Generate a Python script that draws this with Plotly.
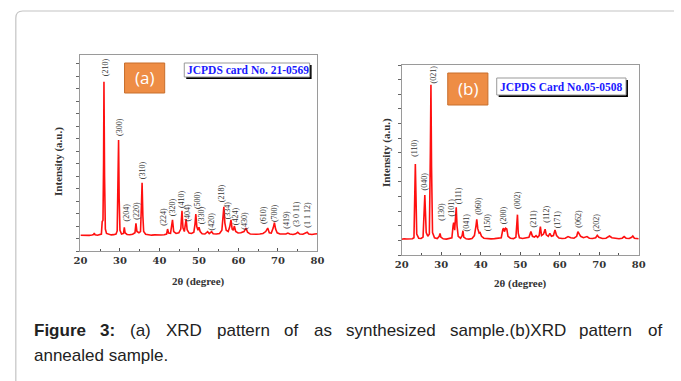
import plotly.graph_objects as go

# ---------------- data ----------------
two_theta_a = [20.0, 20.8, 21.5, 22.2, 22.9, 23.3, 23.5, 23.7, 24.3, 24.9, 25.3, 25.5, 25.7, 25.85, 25.95, 26.1,
               26.3, 26.6, 27.2, 27.8, 28.4, 29.0, 29.3, 29.5, 29.65, 29.8, 30.0, 30.4, 30.9, 31.1, 31.3, 31.8,
               32.5, 33.2, 33.8, 34.05, 34.3, 34.8, 35.2, 35.45, 35.6, 35.8, 36.0, 36.5, 37.3, 38.0, 38.8, 39.6,
               40.4, 41.2, 41.8, 42.05, 42.3, 42.8, 43.3, 43.6, 44.2, 44.9, 45.4, 45.7, 45.95, 46.3, 46.75, 47.0,
               47.5, 48.1, 48.7, 49.0, 49.2, 49.45, 49.75, 50.0, 50.3, 50.8, 51.5, 52.2, 52.6, 53.2, 53.6, 54.4,
               55.2, 55.8, 56.1, 56.3, 56.55, 56.9, 57.4, 57.8, 58.1, 58.4, 58.7, 58.95, 59.3, 59.9, 60.6, 61.4,
               61.9, 62.3, 63.0, 63.8, 64.6, 65.4, 66.2, 66.9, 67.4, 67.8, 68.3, 68.8, 69.1, 69.4, 69.8, 70.5,
               71.3, 72.0, 72.5, 73.0, 73.8, 74.5, 75.0, 75.5, 76.3, 77.0, 77.4, 77.8, 78.6, 79.3, 80.0]
intensity_a = [126, 124, 128, 125, 129, 132, 143, 130, 127, 131, 136, 236, 246, 700, 1358, 600,
               176, 141, 132, 129, 131, 136, 161, 500, 890, 420, 166, 136, 141, 190, 146, 133,
               130, 134, 146, 222, 156, 146, 156, 380, 548, 280, 156, 134, 129, 127, 129, 126,
               128, 130, 136, 176, 144, 141, 249, 156, 141, 146, 176, 323, 186, 156, 257, 171,
               144, 141, 151, 216, 297, 196, 166, 190, 156, 138, 136, 155, 139, 155, 138, 136,
               141, 166, 300, 355, 226, 166, 156, 196, 249, 176, 166, 200, 156, 144, 146, 156,
               184, 151, 136, 132, 134, 136, 141, 156, 184, 146, 144, 186, 227, 176, 146, 136,
               134, 136, 144, 136, 133, 138, 150, 136, 134, 141, 150, 136, 132, 136, 138]

labels_a = ["(210)", "(300)", "(204)", "(220)", "(310)", "(224)", "(320)", "(410)", "(404)", "(500)", "(330)",
            "(420)", "(218)", "(334)", "(424)", "(430)", "(610)", "(700)", "(419)", "(3 0 11)", "(1 1 12)"]
label_x_a = [26.20, 29.92, 31.57, 34.13, 35.70, 41.08, 43.14, 45.62, 47.03, 49.51, 50.83,
             53.23, 55.79, 57.44, 59.26, 61.58, 66.45, 69.18, 72.24, 74.80, 77.45]
label_y_a = [1473, 992, 310, 326, 652, 273, 350, 414, 310, 409, 289,
             235, 462, 329, 275, 241, 289, 302, 249, 299, 294]

two_theta_b = [20.0, 20.6, 21.3, 22.0, 22.7, 23.1, 23.3, 23.45, 23.6, 23.8, 24.3, 24.9, 25.4, 25.7, 25.85, 26.0,
               26.2, 26.6, 27.0, 27.25, 27.4, 27.55, 27.8, 28.3, 29.0, 29.5, 29.7, 29.9, 30.5, 31.3, 32.0, 32.7,
               33.0, 33.15, 33.4, 33.65, 33.8, 34.0, 34.3, 34.9, 35.3, 35.5, 35.7, 36.3, 37.0, 37.8, 38.4, 38.8,
               39.0, 39.25, 39.6, 39.85, 40.2, 40.8, 41.7, 42.6, 43.5, 44.4, 45.2, 45.6, 45.8, 46.0, 46.3, 46.6,
               46.9, 47.5, 48.3, 48.9, 49.15, 49.3, 49.5, 49.8, 50.6, 51.4, 52.2, 52.7, 53.1, 53.6, 54.0, 54.4,
               54.8, 55.1, 55.4, 55.9, 56.3, 56.6, 57.1, 57.5, 57.9, 58.4, 58.8, 59.2, 59.8, 60.6, 61.4, 62.1,
               62.8, 63.6, 64.3, 64.6, 64.9, 65.3, 66.0, 66.9, 67.5, 68.3, 69.1, 69.5, 69.9, 70.8, 71.7, 72.6,
               73.2, 74.0, 75.0, 75.8, 76.3, 76.8, 77.6, 78.2, 78.5, 78.9, 79.5, 80.0]
intensity_b = [108, 111, 109, 110, 111, 118, 400, 623, 420, 143, 115, 113, 123, 300, 411, 300,
               153, 128, 143, 700, 1164, 600, 153, 118, 113, 128, 148, 123, 111, 109, 111, 118,
               200, 221, 170, 250, 327, 200, 128, 115, 133, 166, 123, 111, 109, 113, 133, 200,
               244, 180, 150, 153, 128, 115, 111, 110, 112, 113, 118, 175, 183, 160, 183, 178,
               128, 115, 112, 121, 240, 276, 150, 118, 113, 115, 121, 160, 128, 123, 132, 121,
               133, 194, 133, 143, 176, 138, 128, 148, 128, 133, 171, 133, 116, 113, 115, 126,
               118, 115, 128, 160, 145, 128, 118, 126, 115, 113, 118, 135, 121, 113, 115, 130,
               118, 113, 111, 115, 126, 115, 113, 121, 130, 115, 113, 111]

labels_b = ["(110)", "(040)", "(021)", "(130)", "(101)", "(111)", "(041)", "(060)", "(150)", "(200)",
            "(002)", "(211)", "(112)", "(171)", "(062)", "(202)"]
label_x_b = [23.39, 25.87, 28.10, 30.17, 32.48, 34.30, 36.37, 39.59, 41.57, 45.80,
             49.43, 53.30, 56.45, 59.34, 64.71, 69.27]
label_y_b = [727, 502, 1233, 296, 325, 403, 225, 337, 223, 270,
             377, 245, 280, 245, 251, 225]

x_ticks = [20, 30, 40, 50, 60, 70, 80]

caption_words_1 = ["<b>Figure</b>", "<b>3:</b>", "(a)", "XRD", "pattern", "of", "as", "synthesized",
                   "sample.(b)XRD", "pattern", "of"]
caption_x_1 = [26, 93, 124, 160, 212, 281, 311, 344, 450, 582, 652]
caption_line_2 = "annealed sample."

# ---------------- helpers ----------------
W, H = 681, 381


def px(x):
    return x / W


def py(y):
    return 1 - y / H


RED = "#ff1010"
SERIF = "Liberation Serif"
TICKFONT = dict(family="DejaVu Serif", size=10, color="#333333", weight="bold")

fig = go.Figure()
fig.add_trace(go.Scatter(x=two_theta_a, y=intensity_a, mode="lines",
                         line=dict(color=RED, width=1.6), xaxis="x", yaxis="y", hoverinfo="skip"))
fig.add_trace(go.Scatter(x=two_theta_b, y=intensity_b, mode="lines",
                         line=dict(color=RED, width=1.6), xaxis="x2", yaxis="y2", hoverinfo="skip"))

xcommon = dict(range=[20, 80], tickvals=x_ticks, showline=True, mirror=True, linecolor="#9a9a9a",
               linewidth=1, ticks="inside", ticklen=3, tickcolor="#555555", showgrid=False,
               zeroline=False, tickfont=TICKFONT,
               minor=dict(dtick=5, tick0=20, ticks="inside", ticklen=2, tickcolor="#555555", showgrid=False))
ycommon = dict(showline=True, mirror=True, linecolor="#9a9a9a", linewidth=1, ticks="outside",
               ticklen=3, tickcolor="#666666", dtick=100, tick0=0, showticklabels=False,
               showgrid=False, zeroline=False)

fig.update_layout(
    width=W, height=H, margin=dict(l=0, r=0, t=0, b=0),
    paper_bgcolor="white", plot_bgcolor="white", showlegend=False,
    xaxis=dict(domain=[px(75), px(317)], anchor="y", **xcommon),
    yaxis=dict(domain=[py(251), py(55)], anchor="x", range=[0, 1572], **ycommon),
    xaxis2=dict(domain=[px(403), px(645)], anchor="y2", **xcommon),
    yaxis2=dict(domain=[py(255), py(65)], anchor="x2", range=[0, 1300], **ycommon),
)

ann = []
for t, x, y in zip(labels_a, label_x_a, label_y_a):
    ann.append(dict(text=t, x=x, y=y, xref="x", yref="y", showarrow=False, textangle=-90,
                    font=dict(family=SERIF, size=8, color="#333333"), xanchor="center", yanchor="middle"))
for t, x, y in zip(labels_b, label_x_b, label_y_b):
    ann.append(dict(text=t, x=x, y=y, xref="x2", yref="y2", showarrow=False, textangle=-90,
                    font=dict(family=SERIF, size=8, color="#333333"), xanchor="center", yanchor="middle"))

title_font = dict(family=SERIF, size=11, color="#333333", weight="bold")
# axis titles
ann.append(dict(text="2θ (degree)", x=px(196), y=py(281), xref="paper", yref="paper", showarrow=False,
                font=title_font, xanchor="center", yanchor="middle"))
ann.append(dict(text="2θ (degree)", x=px(524), y=py(283), xref="paper", yref="paper", showarrow=False,
                font=title_font, xanchor="center", yanchor="middle"))
ann.append(dict(text="Intensity (a.u.)", x=px(52), y=py(161), xref="paper", yref="paper", showarrow=False,
                textangle=-90, font=title_font, xanchor="center", yanchor="middle"))
ann.append(dict(text="Intensity (a.u.)", x=px(388), y=py(153), xref="paper", yref="paper", showarrow=False,
                textangle=-90, font=title_font, xanchor="center", yanchor="middle"))

# panel tags
ann.append(dict(text="(a)", x=px(140.5), y=py(78), xref="paper", yref="paper", showarrow=False,
                font=dict(family="Open Sans", size=17, color="white"), xanchor="center", yanchor="middle"))
ann.append(dict(text="(b)", x=px(470.5), y=py(89), xref="paper", yref="paper", showarrow=False,
                font=dict(family="Open Sans", size=17, color="white"), xanchor="center", yanchor="middle"))
ann.append(dict(text="JCPDS card No. 21-0569", x=px(246), y=py(70), xref="paper", yref="paper",
                showarrow=False, font=dict(family=SERIF, size=11.5, color="#1a1aff", weight="bold"),
                xanchor="center", yanchor="middle"))
ann.append(dict(text="JCPDS Card No.05-0508", x=px(566), y=py(86.5), xref="paper", yref="paper",
                showarrow=False, font=dict(family=SERIF, size=11.5, color="#1a1aff", weight="bold"),
                xanchor="center", yanchor="middle"))

# caption
cap_font = dict(family="Liberation Sans", size=17, color="#222222")
for w, x in zip(caption_words_1, caption_x_1):
    ann.append(dict(text=w, x=px(x), y=py(330), xref="paper", yref="paper", showarrow=False,
                    font=cap_font, xanchor="left", yanchor="middle"))
ann.append(dict(text=caption_line_2, x=px(26), y=py(355), xref="paper", yref="paper", showarrow=False,
                font=cap_font, xanchor="left", yanchor="middle"))

fig.update_layout(annotations=ann)

# decorative shapes
shapes = []
r = 7
path = (f"M {px(9)},{py(381)} L {px(9)},{py(11 + r)} "
        f"Q {px(9)},{py(11)} {px(9 + r)},{py(11)} L {px(681)},{py(11)}")
shapes.append(dict(type="path", path=path, xref="paper", yref="paper",
                   line=dict(color="#c4c4c4", width=1.2)))
# orange tags
shapes.append(dict(type="rect", x0=px(120), x1=px(161), y0=py(93), y1=py(63), xref="paper", yref="paper",
                   fillcolor="#ee8d45", line=dict(color="#c86e2c", width=1)))
shapes.append(dict(type="rect", x0=px(450), x1=px(491), y0=py(105), y1=py(73), xref="paper", yref="paper",
                   fillcolor="#ee8d45", line=dict(color="#c86e2c", width=1)))
# JCPDS boxes with shadow
shapes.append(dict(type="rect", x0=px(183), x1=px(311), y0=py(79), y1=py(65), xref="paper", yref="paper",
                   fillcolor="black", line=dict(width=0)))
shapes.append(dict(type="rect", x0=px(181), x1=px(309), y0=py(77), y1=py(63), xref="paper", yref="paper",
                   fillcolor="white", line=dict(color="#999999", width=1)))
shapes.append(dict(type="rect", x0=px(502), x1=px(634), y0=py(97), y1=py(80), xref="paper", yref="paper",
                   fillcolor="black", line=dict(width=0)))
shapes.append(dict(type="rect", x0=px(500), x1=px(632), y0=py(95), y1=py(78), xref="paper", yref="paper",
                   fillcolor="white", line=dict(color="#999999", width=1)))
fig.update_layout(shapes=shapes)

fig.write_html("out.html", config={"displayModeBar": False},
               post_script="document.body.style.margin='0px';document.body.style.overflow='hidden';")
